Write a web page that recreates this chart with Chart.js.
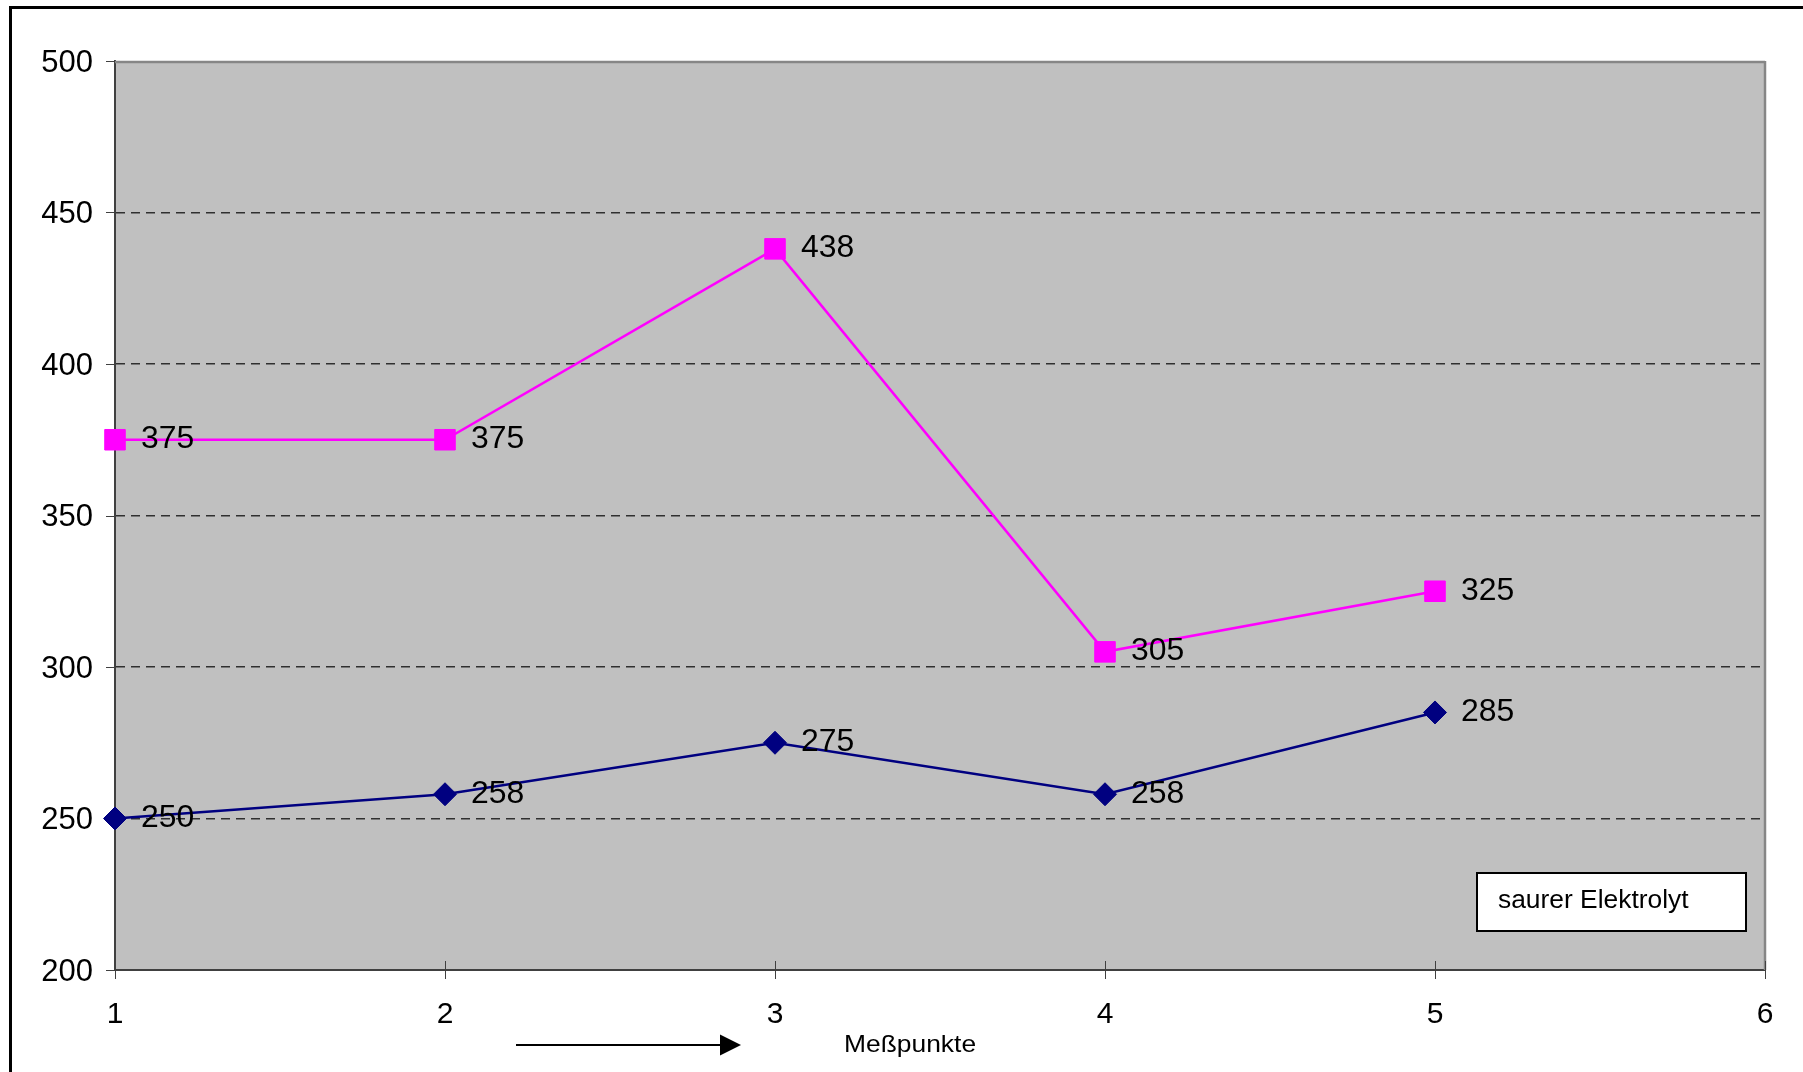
<!DOCTYPE html>
<html>
<head>
<meta charset="utf-8">
<script src="https://cdn.jsdelivr.net/npm/chart.js@4.4.1/dist/chart.umd.min.js"></script>
<style>
  html, body { margin: 0; padding: 0; background: #fff; }
  canvas { display: block; }
</style>
</head>
<body>
<canvas id="c" width="1803" height="1072"></canvas>
<script>
// Messpunkte (x) and measured values per series
const messpunkte = [1, 2, 3, 4, 5];
const saurerWerte = [375, 375, 438, 305, 325];
const basisWerte = [250, 258, 275, 258, 285];

// Axis ticks
const xTicks = [1, 2, 3, 4, 5, 6];
const yTicks = [200, 250, 300, 350, 400, 450, 500];

const achsenTitel = 'Meßpunkte';
const boxText = 'saurer Elektrolyt';

const FONT = '"Liberation Sans", Arial, Helvetica, sans-serif';
const yMin = Math.min(...yTicks), yMax = Math.max(...yTicks);

function toPoints(vals) {
  return messpunkte.map((x, i) => ({ x: x, y: vals[i] }));
}

// draws text slightly widened horizontally
function wideText(ctx, text, x, y, stretch) {
  ctx.save();
  ctx.translate(x, y);
  ctx.scale(stretch, 1);
  ctx.fillText(text, 0, 0);
  ctx.restore();
}

const deko = {
  id: 'deko',
  beforeDraw(chart) {
    const { ctx, chartArea: a } = chart;
    ctx.save();
    ctx.fillStyle = '#fff';
    ctx.fillRect(0, 0, chart.width, chart.height);
    // outer frame (left and top edges)
    ctx.strokeStyle = '#000';
    ctx.lineWidth = 3;
    ctx.beginPath();
    ctx.moveTo(10.5, chart.height);
    ctx.lineTo(10.5, 7.5);
    ctx.lineTo(chart.width, 7.5);
    ctx.stroke();
    // plot background
    ctx.fillStyle = '#C0C0C0';
    ctx.fillRect(a.left, a.top, a.right - a.left, a.bottom - a.top);
    ctx.restore();
  },
  beforeDatasetsDraw(chart) {
    const { ctx, chartArea: a, scales } = chart;
    ctx.save();
    // top and right edges of the plot area
    ctx.strokeStyle = '#868686';
    ctx.lineWidth = 2.5;
    ctx.beginPath();
    ctx.moveTo(a.left, a.top + 1);
    ctx.lineTo(a.right, a.top + 1);
    ctx.moveTo(a.right, a.top);
    ctx.lineTo(a.right, a.bottom);
    ctx.stroke();
    // tick marks
    ctx.strokeStyle = '#404040';
    ctx.lineWidth = 1;
    ctx.beginPath();
    yTicks.forEach(v => {
      const py = Math.round(scales.y.getPixelForValue(v)) + 0.5;
      ctx.moveTo(a.left - 9, py);
      ctx.lineTo(a.left, py);
    });
    xTicks.forEach(v => {
      const px = Math.round(scales.x.getPixelForValue(v)) + 0.5;
      ctx.moveTo(px, a.bottom - 9);
      ctx.lineTo(px, a.bottom + 9);
    });
    ctx.stroke();
    ctx.restore();
  },
  afterDatasetsDraw(chart) {
    const { ctx } = chart;
    ctx.save();
    ctx.fillStyle = '#000';
    ctx.font = '31px ' + FONT;
    ctx.textAlign = 'left';
    ctx.textBaseline = 'middle';
    chart.data.datasets.forEach((ds, di) => {
      const meta = chart.getDatasetMeta(di);
      meta.data.forEach((el, i) => {
        wideText(ctx, String(ds.data[i].y), el.x + 26, el.y, 1.03);
      });
    });
    ctx.restore();
  },
  afterDraw(chart) {
    const { ctx } = chart;
    ctx.save();
    // direction arrow under the x axis
    ctx.strokeStyle = '#000';
    ctx.fillStyle = '#000';
    ctx.lineWidth = 2;
    ctx.beginPath();
    ctx.moveTo(516, 1045);
    ctx.lineTo(722, 1045);
    ctx.stroke();
    ctx.beginPath();
    ctx.moveTo(720, 1034.5);
    ctx.lineTo(741, 1045);
    ctx.lineTo(720, 1055.5);
    ctx.closePath();
    ctx.fill();
    // axis title
    ctx.font = '24px ' + FONT;
    ctx.textAlign = 'left';
    ctx.textBaseline = 'alphabetic';
    wideText(ctx, achsenTitel, 844, 1052, 1.1);
    // text box
    ctx.fillStyle = '#fff';
    ctx.fillRect(1477, 873, 269, 58);
    ctx.strokeStyle = '#000';
    ctx.lineWidth = 2;
    ctx.strokeRect(1477, 873, 269, 58);
    ctx.fillStyle = '#000';
    ctx.font = '25px ' + FONT;
    wideText(ctx, boxText, 1498, 908, 1.055);
    ctx.restore();
  }
};

new Chart(document.getElementById('c'), {
  type: 'line',
  data: {
    datasets: [
      {
        data: toPoints(saurerWerte),
        borderColor: '#FF00FF',
        backgroundColor: '#FF00FF',
        borderWidth: 2.5,
        pointStyle: 'rect',
        pointRadius: 14.5,
        pointBorderWidth: 1,
        pointBorderColor: '#FF00FF',
        pointBackgroundColor: '#FF00FF',
        tension: 0,
        fill: false,
        clip: false
      },
      {
        data: toPoints(basisWerte),
        borderColor: '#000080',
        backgroundColor: '#000080',
        borderWidth: 2.5,
        pointStyle: 'rectRot',
        pointRadius: 11.5,
        pointBorderWidth: 1,
        pointBorderColor: '#000080',
        pointBackgroundColor: '#000080',
        tension: 0,
        fill: false,
        clip: false
      }
    ]
  },
  options: {
    responsive: false,
    animation: false,
    devicePixelRatio: 1,
    layout: { padding: { left: 0, top: 61, right: 38, bottom: 0 } },
    plugins: {
      legend: { display: false },
      tooltip: { enabled: false },
      title: { display: false }
    },
    elements: { line: { borderJoinStyle: 'miter' } },
    scales: {
      x: {
        type: 'linear',
        min: xTicks[0],
        max: xTicks[xTicks.length - 1],
        afterBuildTicks: s => { s.ticks = xTicks.map(v => ({ value: v })); },
        afterFit: s => { s.height = 102; },
        grid: { drawOnChartArea: false, drawTicks: false },
        border: { display: true, color: '#404040', width: 2 },
        ticks: {
          color: '#000',
          font: { family: FONT, size: 30 },
          padding: 27,
          maxRotation: 0,
          autoSkip: false
        }
      },
      y: {
        type: 'linear',
        min: yMin,
        max: yMax,
        afterBuildTicks: s => { s.ticks = yTicks.map(v => ({ value: v })); },
        afterFit: s => { s.width = 115; },
        grid: {
          drawTicks: false,
          lineWidth: 1.5,
          color: c => (c.tick && (c.tick.value === yMin || c.tick.value === yMax)) ? 'rgba(0,0,0,0)' : '#303030'
        },
        border: { display: true, color: '#404040', width: 2, dash: [9, 6] },
        ticks: {
          color: '#000',
          font: { family: FONT, size: 31 },
          padding: 22,
          labelOffset: 2,
          autoSkip: false
        }
      }
    }
  },
  plugins: [deko]
});
</script>
</body>
</html>
